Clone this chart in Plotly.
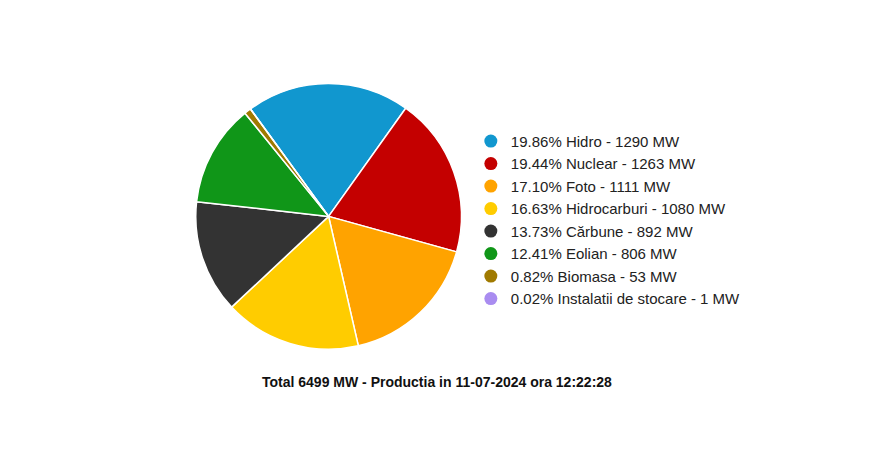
import plotly.graph_objects as go

names = ["Hidro", "Nuclear", "Foto", "Hidrocarburi", "Cărbune", "Eolian", "Biomasa", "Instalatii de stocare"]
values = [1290, 1263, 1111, 1080, 892, 806, 53, 1]
percents = ["19.86%", "19.44%", "17.10%", "16.63%", "13.73%", "12.41%", "0.82%", "0.02%"]
colors = ["#1197cf", "#c40000", "#ffa300", "#ffcc00", "#333333", "#109618", "#a07a00", "#a98cf0"]
title = "Total 6499 MW - Productia in 11-07-2024 ora 12:22:28"

fig = go.Figure()
fig.add_trace(go.Pie(labels=names, values=values, marker=dict(colors=colors, line=dict(color="white", width=1.5)),
                     sort=False, direction="clockwise", rotation=-36, textinfo="none", showlegend=False,
                     domain=dict(x=[0.196, 0.541], y=[0.255, 0.835])))
for n, v, p, c in zip(names, values, percents, colors):
    fig.add_trace(go.Scatter(x=[None], y=[None], mode="markers", name=f"{p} {n} - {v} MW",
                             marker=dict(color=c, size=13, symbol="circle")))
fig.update_layout(width=870, height=458, paper_bgcolor="white", plot_bgcolor="white",
                  margin=dict(l=0, r=0, t=0, b=0),
                  xaxis=dict(visible=False), yaxis=dict(visible=False),
                  legend=dict(x=0.532, y=0.745, xanchor="left", yanchor="top",
                              font=dict(family="Arial", size=15, color="#222"),
                              tracegroupgap=0, itemwidth=30),
                  font=dict(family="Arial"),
                  annotations=[dict(text=f"<b>{title}</b>", x=0.493, y=1-384/458, xref="paper", yref="paper",
                                    showarrow=False, font=dict(size=14, color="#111"))])
fig.write_html("out.html")
